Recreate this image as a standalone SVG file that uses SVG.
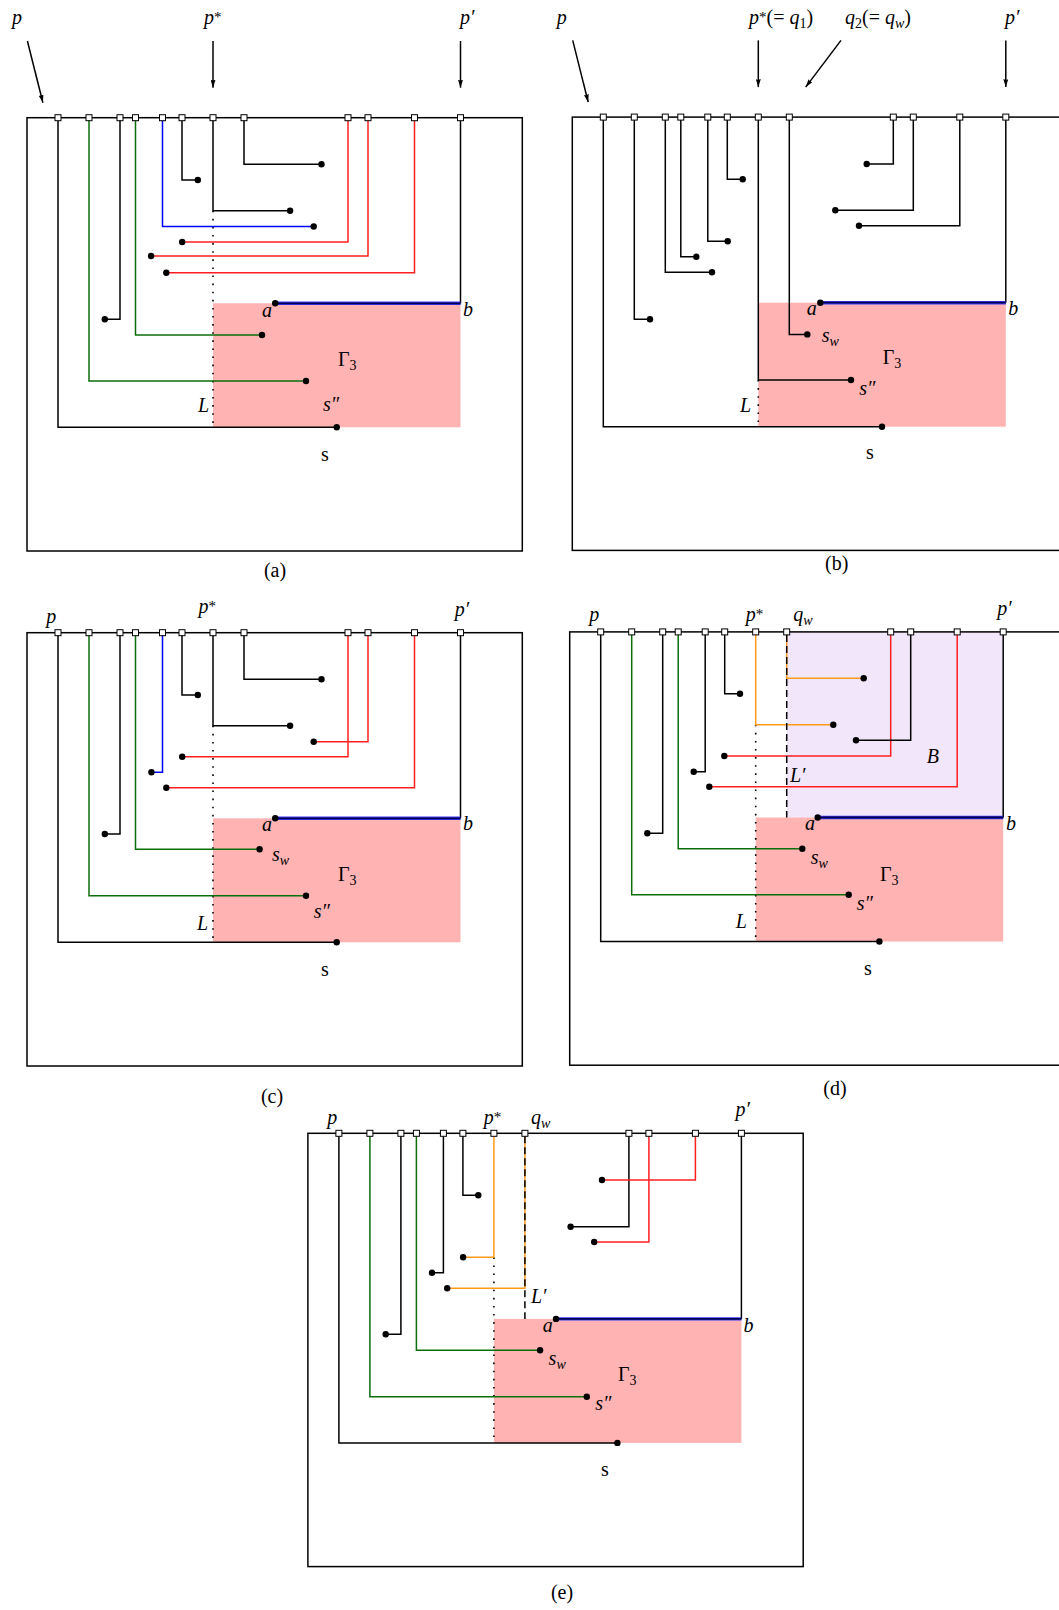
<svg xmlns="http://www.w3.org/2000/svg" width="1059" height="1610" viewBox="0 0 1059 1610">
<style>
.bg{fill:#fff}
.box{fill:none;stroke:#000;stroke-width:1.5}
.k,.g,.r,.bl,.o,.ar{fill:none;stroke-width:1.5}
.k,.ar{stroke:#000}
.g{stroke:#0a6e0a}
.r{stroke:#ff1f1f}
.bl{stroke:#0000ff}
.o{stroke:#ff9a1a}
.dt{fill:none;stroke:#000;stroke-width:1.6;stroke-dasharray:1.6 6.5}
.ds{fill:none;stroke:#000;stroke-width:1.5;stroke-dasharray:7 4}
.ab1{fill:none;stroke:#3a3aff;stroke-width:3.4}
.ab2{fill:none;stroke:#000050;stroke-width:1.8}
.pink{fill:#ffb3b3}
.lav{fill:#f2e6fa}
.term{fill:#fff;stroke:#000;stroke-width:1}
.dot{fill:#000}
text{font-family:"Liberation Serif","Times New Roman",serif;font-size:20px;fill:#000}
.m{font-style:italic}
.cap{text-anchor:middle}
</style>
<defs>
<rect id="t" x="-3" y="-3" width="6" height="6" class="term"/>
<circle id="d" r="3.2" class="dot"/>
<marker id="ah" viewBox="0 0 8 5" refX="8" refY="2.5" markerWidth="8" markerHeight="5" markerUnits="userSpaceOnUse" orient="auto"><path d="M0,0 L8,2.5 L0,5 Q1.5,2.5 0,0z" fill="#000"/></marker>
<g id="terms">
<use href="#t" x="58" y="117.7"/><use href="#t" x="89" y="117.7"/><use href="#t" x="120" y="117.7"/><use href="#t" x="135.5" y="117.7"/><use href="#t" x="162.5" y="117.7"/><use href="#t" x="182" y="117.7"/><use href="#t" x="213" y="117.7"/><use href="#t" x="244" y="117.7"/><use href="#t" x="348" y="117.7"/><use href="#t" x="368" y="117.7"/><use href="#t" x="414.5" y="117.7"/><use href="#t" x="460.5" y="117.7"/>
</g>
</defs>
<rect class="bg" x="0" y="0" width="1059" height="1610"/>

<!-- ========== (a) ========== -->
<g id="panel-a">
<rect id="a-gamma3" class="pink" x="213" y="303.3" width="247.5" height="124"/>
<rect id="a-box" class="box" x="27" y="117.7" width="495.3" height="433.3"/>
<g id="a-connectors">
<path class="ar" d="M27.4,41 L42.9,102.7" marker-end="url(#ah)"/>
<path class="ar" d="M213,41 V87.7" marker-end="url(#ah)"/>
<path class="ar" d="M460.5,41 V87.7" marker-end="url(#ah)"/>
<path class="dt" d="M213,210.7 V427.3"/>
<path class="k" d="M58,117.7 V427.3 H336.7"/>
<path class="g" d="M89,117.7 V381 H306"/>
<path class="k" d="M120,117.7 V319.3 H104.8"/>
<path class="g" d="M135.5,117.7 V335 H262"/>
<path class="bl" d="M162.5,117.7 V226.5 H313.7"/>
<path class="k" d="M182,117.7 V180 H197.8"/>
<path class="k" d="M213,117.7 V210.7 H290.1"/>
<path class="k" d="M244,117.7 V164.3 H321.5"/>
<path class="r" d="M348,117.7 V242 H182.2"/>
<path class="r" d="M368,117.7 V256 H151.1"/>
<path class="r" d="M414.5,117.7 V272.7 H166.3"/>
<path class="k" d="M460.5,117.7 V303.3"/>
<path class="ab1" d="M275.2,303.3 H460.5"/><path class="ab2" d="M275.2,303.3 H460.5"/>
</g>
<g id="a-nodes">
<use href="#terms"/>
<use href="#d" x="336.7" y="427.3"/><use href="#d" x="306" y="381"/><use href="#d" x="104.8" y="319.3"/><use href="#d" x="262" y="335"/><use href="#d" x="313.7" y="226.5"/><use href="#d" x="197.8" y="180"/><use href="#d" x="290.1" y="210.7"/><use href="#d" x="321.5" y="164.3"/><use href="#d" x="182.2" y="242"/><use href="#d" x="151.1" y="256"/><use href="#d" x="166.3" y="272.7"/><use href="#d" x="275.2" y="303.3"/>
</g>
<g id="a-labels">
<text class="m" x="12" y="24">p</text>
<text x="204" y="24"><tspan class="m">p</tspan><tspan font-size="15" dy="-2">*</tspan></text>
<text class="m" x="460" y="24">p′</text>
<text class="m" x="262" y="316.7">a</text>
<text class="m" x="463" y="316">b</text>
<text x="338" y="366">Γ<tspan font-size="14" dy="4">3</tspan></text>
<text class="m" x="323" y="411">s″</text>
<text class="m" x="198" y="412.3">L</text>
<text class="cap" x="325" y="460.5">s</text>
<text class="cap" x="275" y="576.5">(a)</text>
</g>
</g>

<!-- ========== (b) ========== -->
<g id="panel-b" transform="translate(545.3,-0.6)">
<rect id="b-gamma3" class="pink" x="213" y="303.3" width="247.5" height="124"/>
<rect id="b-box" class="box" x="27" y="117.7" width="495.3" height="433.3"/>
<g id="b-connectors">
<path class="ar" d="M27.4,41 L42.9,102.7" marker-end="url(#ah)"/>
<path class="ar" d="M213,41 V87.7" marker-end="url(#ah)"/>
<path class="ar" d="M295.7,41 L260.4,87.7" marker-end="url(#ah)"/>
<path class="ar" d="M460.5,41 V87.7" marker-end="url(#ah)"/>
<path class="dt" d="M213,380.6 V427.3"/>
<path class="k" d="M58,117.7 V427.3 H336.7"/>
<path class="k" d="M89,117.7 V319.9 H104.7"/>
<path class="k" d="M120,117.7 V272.9 H166.7"/>
<path class="k" d="M135.5,117.7 V257.3 H151"/>
<path class="k" d="M162.5,117.7 V241.9 H182.4"/>
<path class="k" d="M182,117.7 V179.9 H197.4"/>
<path class="k" d="M213,117.7 V380.6 H305.7"/>
<path class="k" d="M244,117.7 V335 H262"/>
<path class="k" d="M348,117.7 V164.6 H321.4"/>
<path class="k" d="M368,117.7 V210.9 H290"/>
<path class="k" d="M414.5,117.7 V226.3 H313.7"/>
<path class="k" d="M460.5,117.7 V303.3"/>
<path class="ab1" d="M275,303.3 H460.5"/><path class="ab2" d="M275,303.3 H460.5"/>
</g>
<g id="b-nodes">
<use href="#terms"/>
<use href="#d" x="336.7" y="427.3"/><use href="#d" x="104.7" y="319.9"/><use href="#d" x="166.7" y="272.9"/><use href="#d" x="151" y="257.3"/><use href="#d" x="182.4" y="241.9"/><use href="#d" x="197.4" y="179.9"/><use href="#d" x="305.7" y="380.6"/><use href="#d" x="262" y="335"/><use href="#d" x="321.4" y="164.6"/><use href="#d" x="290" y="210.9"/><use href="#d" x="313.7" y="226.3"/><use href="#d" x="275" y="303.3"/>
</g>
<g id="b-labels">
<text class="m" x="11.4" y="24.6">p</text>
<text x="203.7" y="24.6"><tspan class="m">p</tspan><tspan font-size="15" dy="-2">*</tspan><tspan dy="2">(= </tspan><tspan class="m">q</tspan><tspan font-size="14" dy="4">1</tspan><tspan dy="-4">)</tspan></text>
<text x="299.7" y="24.6"><tspan class="m">q</tspan><tspan font-size="14" dy="4">2</tspan><tspan dy="-4">(= </tspan><tspan class="m">q</tspan><tspan class="m" font-size="14" dy="4">w</tspan><tspan dy="-4">)</tspan></text>
<text class="m" x="459.7" y="24.6">p′</text>
<text class="m" x="261.4" y="315.6">a</text>
<text class="m" x="463" y="315.6">b</text>
<text class="m" x="276.4" y="342.3">s<tspan font-size="14" dy="4">w</tspan></text>
<text x="337.4" y="365">Γ<tspan font-size="14" dy="4">3</tspan></text>
<text class="m" x="314" y="395.6">s″</text>
<text class="m" x="194.7" y="412.3">L</text>
<text class="cap" x="324.7" y="460">s</text>
<text class="cap" x="291.4" y="571">(b)</text>
</g>
</g>

<!-- ========== (c) ========== -->
<g id="panel-c" transform="translate(0,515)">
<rect id="c-gamma3" class="pink" x="213" y="303.3" width="247.5" height="124"/>
<rect id="c-box" class="box" x="27" y="117.7" width="495.3" height="433.3"/>
<g id="c-connectors">
<path class="dt" d="M213,210.7 V427.3"/>
<path class="k" d="M58,117.7 V427.3 H336.7"/>
<path class="g" d="M89,117.7 V380.7 H306"/>
<path class="k" d="M120,117.7 V319 H104.8"/>
<path class="g" d="M135.5,117.7 V334.3 H259.6"/>
<path class="bl" d="M162.5,117.7 V257.3 H151.4"/>
<path class="k" d="M182,117.7 V180 H197.8"/>
<path class="k" d="M213,117.7 V210.7 H290.1"/>
<path class="k" d="M244,117.7 V164.3 H321.5"/>
<path class="r" d="M348,117.7 V241.7 H182.2"/>
<path class="r" d="M368,117.7 V226.7 H313.7"/>
<path class="r" d="M414.5,117.7 V272.7 H166.3"/>
<path class="k" d="M460.5,117.7 V303.3"/>
<path class="ab1" d="M275.2,303.3 H460.5"/><path class="ab2" d="M275.2,303.3 H460.5"/>
</g>
<g id="c-nodes">
<use href="#terms"/>
<use href="#d" x="336.7" y="427.3"/><use href="#d" x="306" y="380.7"/><use href="#d" x="104.8" y="319"/><use href="#d" x="259.6" y="334.3"/><use href="#d" x="151.4" y="257.3"/><use href="#d" x="197.8" y="180"/><use href="#d" x="290.1" y="210.7"/><use href="#d" x="321.5" y="164.3"/><use href="#d" x="182.2" y="241.7"/><use href="#d" x="313.7" y="226.7"/><use href="#d" x="166.3" y="272.7"/><use href="#d" x="275.2" y="303.3"/>
</g>
<g id="c-labels">
<text class="m" x="46.3" y="107.5">p</text>
<text x="198.4" y="97.7"><tspan class="m">p</tspan><tspan font-size="15" dy="-2">*</tspan></text>
<text class="m" x="454.7" y="101">p′</text>
<text class="m" x="262" y="315.7">a</text>
<text class="m" x="463" y="315">b</text>
<text class="m" x="272" y="345.7">s<tspan font-size="14" dy="4">w</tspan></text>
<text x="338" y="366">Γ<tspan font-size="14" dy="4">3</tspan></text>
<text class="m" x="313.7" y="403.3">s″</text>
<text class="m" x="197" y="415">L</text>
<text class="cap" x="325" y="460.5">s</text>
<text class="cap" x="272" y="587.5">(c)</text>
</g>
</g>

<!-- ========== (d) ========== -->
<g id="panel-d" transform="translate(542.7,514.2)">
<rect id="d-B" class="lav" x="244" y="117.7" width="216.5" height="185.6"/>
<rect id="d-gamma3" class="pink" x="213" y="303.3" width="247.5" height="124"/>
<rect id="d-box" class="box" x="27" y="117.7" width="495.3" height="433.3"/>
<g id="d-connectors">
<path class="dt" d="M213,210.5 V427.3"/>
<path class="k" d="M58,117.7 V427.3 H336.7"/>
<path class="g" d="M89,117.7 V380.5 H306"/>
<path class="k" d="M120,117.7 V319.1 H104.6"/>
<path class="g" d="M135.5,117.7 V334.5 H259.6"/>
<path class="k" d="M162.5,117.7 V257.5 H151"/>
<path class="k" d="M182,117.7 V179.5 H197.3"/>
<path class="o" d="M213,117.7 V210.5 H290.6"/>
<path class="o" d="M244,117.7 V164.1 H321"/>
<path class="r" d="M348,117.7 V241.8 H181.6"/>
<path class="k" d="M368,117.7 V226.1 H313.3"/>
<path class="r" d="M414.5,117.7 V272.5 H166.6"/>
<path class="k" d="M460.5,117.7 V303.3"/>
<path class="ds" d="M244,120.7 V303.3"/>
<path class="ab1" d="M275,303.3 H460.5"/><path class="ab2" d="M275,303.3 H460.5"/>
</g>
<g id="d-nodes">
<use href="#terms"/>
<use href="#d" x="336.7" y="427.3"/><use href="#d" x="306" y="380.5"/><use href="#d" x="104.6" y="319.1"/><use href="#d" x="259.6" y="334.5"/><use href="#d" x="151" y="257.5"/><use href="#d" x="197.3" y="179.5"/><use href="#d" x="290.6" y="210.5"/><use href="#d" x="321" y="164.1"/><use href="#d" x="181.6" y="241.8"/><use href="#d" x="313.3" y="226.1"/><use href="#d" x="166.6" y="272.5"/><use href="#d" x="275" y="303.3"/>
</g>
<g id="d-labels">
<text class="m" x="46.6" y="107">p</text>
<text x="203" y="107"><tspan class="m">p</tspan><tspan font-size="15" dy="-2">*</tspan></text>
<text class="m" x="250.6" y="107">q<tspan font-size="14" dy="4">w</tspan></text>
<text class="m" x="454.6" y="100.5">p′</text>
<text class="m" x="384" y="248.5">B</text>
<text class="m" x="247.3" y="267.5">L′</text>
<text class="m" x="262.3" y="315.8">a</text>
<text class="m" x="463.3" y="315.8">b</text>
<text class="m" x="268" y="349.8">s<tspan font-size="14" dy="4">w</tspan></text>
<text x="337.3" y="367">Γ<tspan font-size="14" dy="4">3</tspan></text>
<text class="m" x="314" y="395.8">s″</text>
<text class="m" x="193" y="414.1">L</text>
<text class="cap" x="325.3" y="460.5">s</text>
<text class="cap" x="292.3" y="581">(d)</text>
</g>
</g>

<!-- ========== (e) ========== -->
<g id="panel-e" transform="translate(280.9,1015.6)">
<rect id="e-gamma3" class="pink" x="213" y="303.3" width="247.5" height="124"/>
<rect id="e-box" class="box" x="27" y="117.7" width="495.3" height="433.3"/>
<g id="e-connectors">
<path class="dt" d="M213,241.7 V427.3"/>
<path class="k" d="M58,117.7 V427.3 H336.5"/>
<path class="g" d="M89,117.7 V381.1 H305.9"/>
<path class="k" d="M120,117.7 V318.7 H104.8"/>
<path class="g" d="M135.5,117.7 V334.7 H259.2"/>
<path class="k" d="M162.5,117.7 V257.1 H151.1"/>
<path class="k" d="M182,117.7 V179.7 H197.4"/>
<path class="o" d="M213,117.7 V241.7 H182.2"/>
<path class="o" d="M244,117.7 V272.7 H166.3"/>
<path class="k" d="M348,117.7 V211.1 H289.7"/>
<path class="r" d="M368,117.7 V226.4 H313.3"/>
<path class="r" d="M414.5,117.7 V164.4 H321.1"/>
<path class="k" d="M460.5,117.7 V303.3"/>
<path class="ds" d="M244,120.7 V303.5"/>
<path class="ab1" d="M275.1,303.3 H460.5"/><path class="ab2" d="M275.1,303.3 H460.5"/>
</g>
<g id="e-nodes">
<use href="#terms"/>
<use href="#d" x="336.5" y="427.3"/><use href="#d" x="305.9" y="381.1"/><use href="#d" x="104.8" y="318.7"/><use href="#d" x="259.2" y="334.7"/><use href="#d" x="151.1" y="257.1"/><use href="#d" x="197.4" y="179.7"/><use href="#d" x="182.2" y="241.7"/><use href="#d" x="166.3" y="272.7"/><use href="#d" x="289.7" y="211.1"/><use href="#d" x="313.3" y="226.4"/><use href="#d" x="321.1" y="164.4"/><use href="#d" x="275.1" y="303.3"/>
</g>
<g id="e-labels">
<text class="m" x="46.3" y="108.7">p</text>
<text x="202.8" y="108.7"><tspan class="m">p</tspan><tspan font-size="15" dy="-2">*</tspan></text>
<text class="m" x="250.1" y="108.7">q<tspan font-size="14" dy="4">w</tspan></text>
<text class="m" x="454.6" y="100.4">p′</text>
<text class="m" x="250.1" y="287.7">L′</text>
<text class="m" x="261.9" y="316.1">a</text>
<text class="m" x="462.7" y="316.1">b</text>
<text class="m" x="267.7" y="349.4">s<tspan font-size="14" dy="4">w</tspan></text>
<text x="337.1" y="365">Γ<tspan font-size="14" dy="4">3</tspan></text>
<text class="m" x="314.4" y="394.4">s″</text>
<text class="cap" x="324.1" y="460">s</text>
<text class="cap" x="281.1" y="583.8">(e)</text>
</g>
</g>
</svg>
